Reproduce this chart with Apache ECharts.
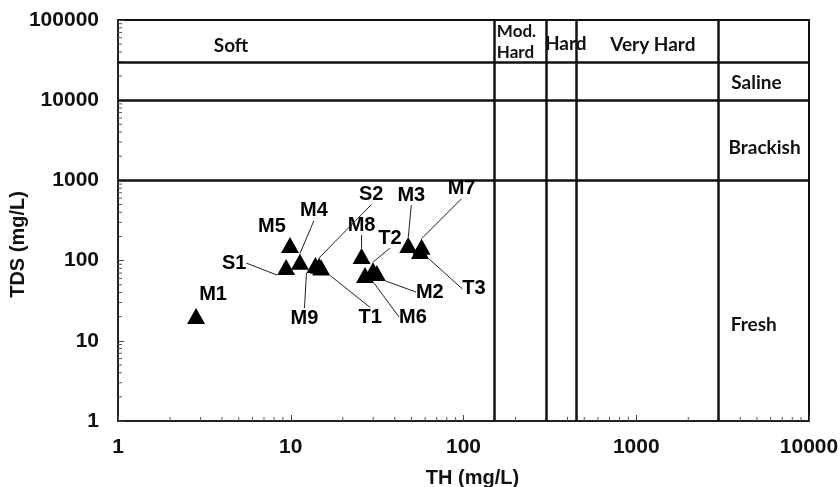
<!DOCTYPE html>
<html>
<head>
<meta charset="utf-8">
<script src="https://cdn.jsdelivr.net/npm/echarts@6/dist/echarts.min.js"></script>
<style>html,body{margin:0;padding:0;background:#fff}#c{width:840px;height:487px}</style>
</head>
<body>
<div id="c"></div>
<script>
// ---- data ----
var sampleNames = ['M1','M5','S1','M4','M9','S2','T1','M8','M6','T2','M2','M3','M7','T3'];
var thValues    = [2.83, 9.9, 9.4, 11.3, 13.9, 14.6, 15.0, 25.7, 26.9, 29.9, 31.5, 47.9, 57.2, 56.0];
var tdsValues   = [20.4, 156, 83, 97, 88, 86, 82, 114, 66, 76, 70, 156, 149, 132];

var hardnessBounds = [150, 300, 450, 3000];      // TH class limits
var salinityBounds = [1000, 10000, 30000];       // TDS class limits

var zoneNames = ['Soft', 'Mod.\nHard', 'Hard', 'Very Hard', 'Saline', 'Brackish', 'Fresh'];
var zoneTH    = [4.51, 156, 391, 1248, 4966, 5533, 4788];
var zoneTDS   = [47400, 53200, 50200, 48800, 16630, 2570, 15.7];

var minorTickX = [2,3,4,5,6,7,8,9,20,30,40,50,60,70,80,90,200,300,400,500,600,700,800,900,2000,3000,4000,5000,6000,7000,8000,9000];
var minorTickY = [2,3,4,5,6,7,8,9,20,30,40,50,60,70,80,90,200,300,400,500,600,700,800,900,2000,3000,4000,5000,6000,7000,8000,9000,20000,30000,40000,50000,60000,70000,80000,90000];

// ---- label placement (pixel offsets from each marker, styling only) ----
var labelOffsets = [[17,-21],[-18,-19],[-52,-4],[14,-51],[-11,53],[52,-71],[49,50],[0,-31],[48,42],[17,-32],[53,19],[3,-50],[40,-58],[54,38]];
var noLeader = {'M1':true,'M5':true};

var pts = sampleNames.map(function(n,i){
  return {name:n, value:[thValues[i], tdsValues[i]], labelLine:{show: !noLeader[n]}};
});

var chart = echarts.init(document.getElementById('c'), null, {renderer:'canvas'});
var axisFontFamily = 'Liberation Sans, Arial, sans-serif';
var zoneFont = 'Lato, "Open Sans", sans-serif';

chart.setOption({
  backgroundColor:'#ffffff',
  animation:false,
  grid:{left:118, right:31, top:20, bottom:66, containLabel:false, outerBoundsMode:'none', show:true, borderColor:'#111', borderWidth:2, backgroundColor:'transparent'},
  xAxis:{
    type:'log', logBase:10, min:1, max:10000,
    name:'TH (mg/L)', nameLocation:'middle', nameGap:47, nameMoveOverlap:false,
    nameTextStyle:{fontFamily:axisFontFamily, fontWeight:'bold', fontSize:20, color:'#111', padding:[0,0,0,18]},
    axisLine:{show:true, lineStyle:{color:'#222', width:2}},
    axisTick:{show:true, inside:true, length:6, lineStyle:{color:'#444'}},
    axisLabel:{margin:16, fontFamily:axisFontFamily, fontWeight:'bold', fontSize:21, color:'#111', formatter:function(v){return String(Math.round(v));}},
    splitLine:{show:false}
  },
  yAxis:{
    type:'log', logBase:10, min:1, max:100000,
    name:'TDS (mg/L)', nameLocation:'middle', nameGap:90, nameMoveOverlap:false,
    nameTextStyle:{fontFamily:axisFontFamily, fontWeight:'bold', fontSize:20, color:'#111', padding:[0,48,0,0]},
    axisLine:{show:true, lineStyle:{color:'#222', width:2}},
    axisTick:{show:true, inside:true, length:6, lineStyle:{color:'#444'}},
    axisLabel:{margin:19, fontFamily:axisFontFamily, fontWeight:'bold', fontSize:21, color:'#111', formatter:function(v){return String(Math.round(v));}},
    splitLine:{show:false}
  },
  series:[
    {
      type:'scatter', name:'zones', silent:true, symbolSize:0, z:1,
      data:[],
      markLine:{
        silent:true, symbol:['none','none'], label:{show:false},
        lineStyle:{color:'#111', width:2.5, type:'solid', opacity:1},
        data: hardnessBounds.map(function(v){return {xAxis:v};})
          .concat(salinityBounds.map(function(v){return {yAxis:v};}))
      }
    },
    {
      type:'scatter', name:'zoneLabels', silent:true, symbol:'circle', symbolSize:2, z:3,
      itemStyle:{color:'rgba(0,0,0,0)', opacity:1},
      data: zoneNames.map(function(n,i){return {name:n, value:[zoneTH[i], zoneTDS[i]]};}),
      label:{
        show:true, position:'inside', formatter:'{b}',
        fontFamily:zoneFont, fontWeight:'bold', fontSize:19, color:'#111', lineHeight:21
      },
      labelLayout:function(p){
        if (p.dataIndex === 1) {
          return {x:p.rect.x + p.rect.width/2, y:p.rect.y + p.rect.height/2, align:'left', verticalAlign:'middle', fontSize:17};
        }
        return {x:p.rect.x + p.rect.width/2, y:p.rect.y + p.rect.height/2, align:'center', verticalAlign:'middle'};
      }
    },
    {
      type:'custom', name:'minorX', silent:true, z:2, clip:false,
      data: minorTickX.map(function(v){return [v];}),
      renderItem:function(params, api){
        var p = api.coord([api.value(0), 1]);
        return {type:'line', shape:{x1:p[0], y1:p[1], x2:p[0], y2:p[1]-4}, style:{stroke:'#555', lineWidth:1}};
      }
    },
    {
      type:'custom', name:'minorY', silent:true, z:2, clip:false,
      data: minorTickY.map(function(v){return [v];}),
      encode:{y:0},
      renderItem:function(params, api){
        var p = api.coord([1, api.value(0)]);
        return {type:'line', shape:{x1:p[0], y1:p[1], x2:p[0]+4, y2:p[1]}, style:{stroke:'#555', lineWidth:1}};
      }
    },
    {
      type:'scatter', name:'samples', z:5,
      symbol:'triangle', symbolSize:[18,16],
      itemStyle:{color:'#000', opacity:1},
      data: pts,
      label:{
        show:true, formatter:'{b}', position:'inside',
        fontFamily:axisFontFamily, fontWeight:'bold', fontSize:20, color:'#000'
      },
      labelLine:{show:true, lineStyle:{color:'#222', width:1, opacity:1}},
      labelLayout:function(p){
        var o = labelOffsets[p.dataIndex];
        return {x:p.rect.x + p.rect.width/2 + o[0], y:p.rect.y + p.rect.height/2 + o[1], align:'center', verticalAlign:'middle'};
      }
    }
  ]
});
</script>
</body>
</html>
